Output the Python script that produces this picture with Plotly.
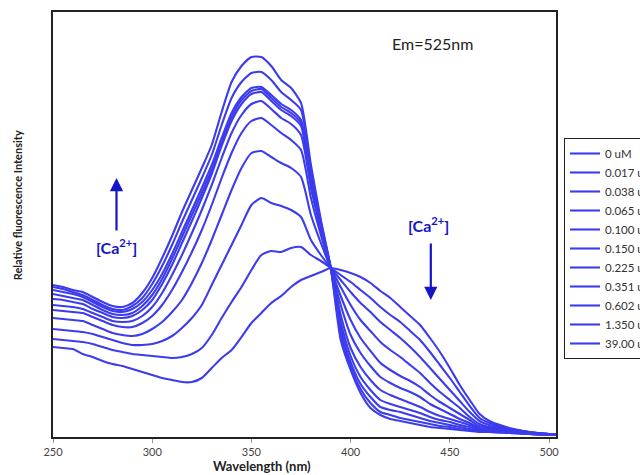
import plotly.graph_objects as go

wavelength = [250,255,260,265,270,275,280,285,290,295,300,305,310,315,320,325,330,335,340,345,
              350,355,360,365,370,375,380,385,390,395,400,405,410,415,420,425,430,435,440,445,
              450,455,460,465,470,480,490,500,504]

labels = ["0 uM","0.017 uM","0.038 uM","0.065 uM","0.100 uM","0.150 uM",
          "0.225 uM","0.351 uM","0.602 uM","1.350 uM","39.00 uM"]

i_0000 = [90,89,88,83,80,76,73,71,68,65,62,59,57,55,55,59,69,79,87,100,114,124,134,141,150,157,161,165,169,
          167,164,160,154,146,139,130,121,112,99,85,69,52,37,23,16,9,5,3,3]
i_0017 = [98,97,96,95,93,90,87,85,83,82,81,80,79,80,83,89,102,119,135,150,167,182,186,185,189,190,182,176,169,
          162,155,147,139,130,122,115,106,97,85,72,59,45,31,19,14,8,5,3,3]
i_0038 = [108,107,106,105,103,100,97,94,92,92,93,96,101,109,119,132,152,172,192,212,232,239,234,231,227,220,197,182,169,
          157,145,134,125,115,107,99,90,80,69,58,47,36,25,16,12,8,5,3,3]
i_0065 = [119,118,117,116,112,108,104,102,101,103,108,115,125,137,154,174,197,222,247,269,284,286,280,274,269,260,222,194,169,
          150,132,117,106,95,87,80,72,64,54,45,37,29,20,13,10,7,4,3,3]
i_0100 = [127,126,125,124,120,116,112,110,110,114,121,132,147,165,185,207,232,259,284,304,316,319,312,304,297,287,239,202,169,
          141,117,99,86,74,67,61,56,50,42,35,29,23,17,11,9,7,4,3,3]
i_0150 = [132,131,130,128,124,120,116,115,116,121,130,144,162,182,204,227,252,279,304,322,333,336,328,319,313,302,249,207,169,
          132,102,84,71,60,54,49,45,40,33,28,23,18,14,9,8,6,4,3,3]
i_0225 = [138,137,135,133,128,124,120,119,121,127,137,153,172,194,216,239,263,291,316,333,343,345,336,327,321,311,255,210,169,
          122,89,70,57,47,42,38,34,30,25,21,18,15,12,8,7,6,4,2,2]
i_0351 = [143,141,139,137,132,127,123,122,124,131,142,158,178,200,222,244,267,295,320,337,346,348,339,330,324,314,257,211,169,
          115,81,60,47,37,33,30,27,24,20,17,15,12,10,7,6,5,3,2,2]
i_0602 = [147,145,143,140,135,130,126,125,128,135,147,163,183,205,227,249,272,299,324,340,349,350,342,333,327,317,260,212,169,
          109,75,53,40,30,27,25,22,19,16,14,12,10,8,6,6,5,3,2,2]
i_1350 = [150,148,145,142,137,132,128,127,131,139,153,171,192,215,237,259,282,312,339,355,364,365,357,345,337,327,267,215,169,
          103,71,48,34,25,22,19,17,15,13,11,10,8,7,6,5,4,3,2,2]
i_3900 = [152,150,147,145,140,135,131,130,134,144,159,179,201,225,247,269,292,325,355,371,380,380,371,357,349,334,272,217,169,
          97,67,44,29,22,18,16,14,12,10,9,8,7,6,5,5,4,3,2,2]

series = [i_0000,i_0017,i_0038,i_0065,i_0100,i_0150,i_0225,i_0351,i_0602,i_1350,i_3900]

x_ticks = [250,300,350,400,450,500]

LINE = "rgb(60,60,238)"
BLUE = "rgb(20,20,200)"

fig = go.Figure()
for name, vals in zip(labels, series):
    fig.add_trace(go.Scatter(x=wavelength, y=vals, mode="lines", name=name,
                             line=dict(color=LINE, width=2.1, shape="spline", smoothing=0.6)))

fig.update_layout(
    width=640, height=475,
    margin=dict(l=53, r=84, t=12, b=38, autoexpand=False),
    paper_bgcolor="white", plot_bgcolor="white",
    font=dict(family="Lato, Open Sans, sans-serif", color="#333"),
    showlegend=True,
    legend=dict(xref="container", yref="container", x=564/640, y=1-138/475,
                xanchor="left", yanchor="top",
                bordercolor="#222", borderwidth=1, bgcolor="white",
                font=dict(size=11.5, color="#333"), itemwidth=30,
                tracegroupgap=0),
    xaxis=dict(range=[250, 503.5], tickvals=x_ticks, ticks="outside", ticklen=4,
               tickcolor="#999", tickfont=dict(size=11, color="#444"),
               showline=True, linecolor="#222", linewidth=1.5, mirror=True,
               showgrid=False, zeroline=False),
    yaxis=dict(range=[0, 425], showticklabels=False, ticks="",
               showline=True, linecolor="#222", linewidth=1.5, mirror=True,
               showgrid=False, zeroline=False),
)

anns = [
    dict(text="<b>Wavelength (nm)</b>", xref="paper", yref="paper", x=(262-53)/503,
         y=(437-466)/425, yanchor="middle", showarrow=False,
         font=dict(size=13, color="#222")),
    dict(text="<b>Relative fluorescence Intensity</b>", xref="paper", yref="paper",
         x=-0.071, y=(437-205)/425, textangle=-90, showarrow=False, xanchor="center",
         font=dict(size=11, color="#222")),
    dict(text="Em=525nm", x=441.5, y=394, showarrow=False,
         font=dict(size=16, color="#222")),
    dict(text="<b>[Ca<sup>2+</sup>]</b>", x=282, y=191, showarrow=False,
         font=dict(size=16, color=BLUE)),
    dict(text="<b>[Ca<sup>2+</sup>]</b>", x=439.4, y=213, showarrow=False,
         font=dict(size=16, color=BLUE)),
    dict(text="", x=282, y=259, ax=282, ay=205, axref="x", ayref="y",
         showarrow=True, arrowhead=2, arrowsize=1.2, arrowwidth=2.2, arrowcolor=BLUE),
    dict(text="", x=440.4, y=137, ax=440.4, ay=195, axref="x", ayref="y",
         showarrow=True, arrowhead=2, arrowsize=1.2, arrowwidth=2.2, arrowcolor=BLUE),
]
fig.update_layout(annotations=anns)

fig.write_html("out.html", config={"displayModeBar": False},
               post_script="document.body.style.margin='0';")
